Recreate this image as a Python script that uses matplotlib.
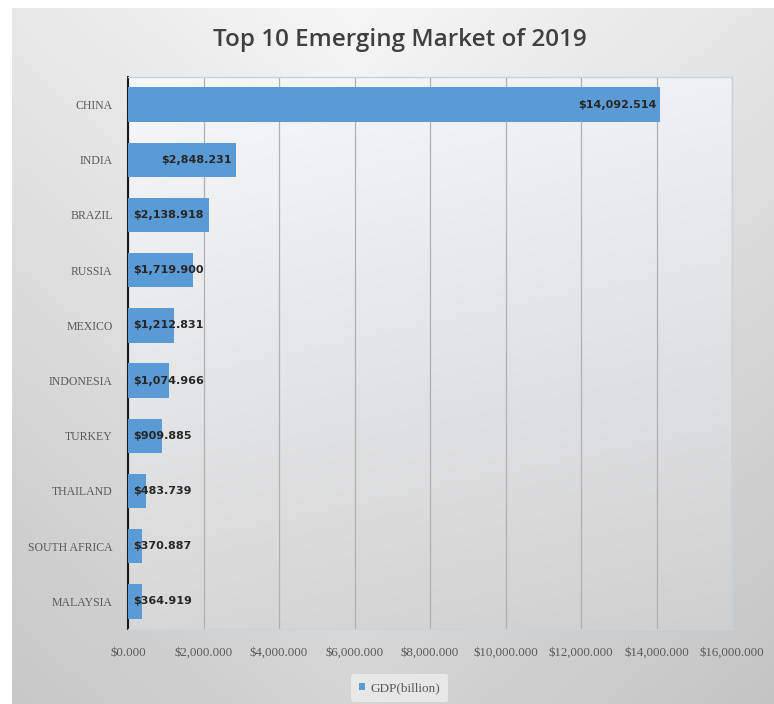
import numpy as np
import matplotlib
matplotlib.use("Agg")
import matplotlib.pyplot as plt
from matplotlib.ticker import FuncFormatter

countries = ["CHINA", "INDIA", "BRAZIL", "RUSSIA", "MEXICO", "INDONESIA",
             "TURKEY", "THAILAND", "SOUTH AFRICA", "MALAYSIA"]
gdp = [14092.514, 2848.231, 2138.918, 1719.900, 1212.831, 1074.966,
       909.885, 483.739, 370.887, 364.919]
x_ticks = [0, 2000, 4000, 6000, 8000, 10000, 12000, 14000, 16000]
title = "Top 10 Emerging Market of 2019"
series_name = "GDP(billion)"

W, H = 774, 704
fig = plt.figure(figsize=(W / 100, H / 100), dpi=100)
fig.patch.set_facecolor("white")

# chart frame with a soft grey gradient (light at the top centre)
bg = fig.add_axes([12 / W, 0, 1 - 12 / W, 1 - 8 / H], zorder=0)
yy, xx = np.mgrid[0:1:200j, 0:1:200j]
shade = 0.965 - 0.13 * yy - 0.06 * np.abs(xx - 0.45) * 2
bg.imshow(np.dstack([shade, shade, shade]), aspect="auto",
          extent=[0, 1, 0, 1], origin="upper")
bg.set_axis_off()

left, right, top, bottom = 128, 732, 77, 629
ax = fig.add_axes([left / W, 1 - bottom / H, (right - left) / W,
                   (bottom - top) / H], zorder=1)
ax.patch.set_alpha(0)
# plot-area gradient
pyy, pxx = np.mgrid[0:1:200j, 0:1:200j]
ps = 0.975 - 0.13 * pyy - 0.03 * pxx
ax.imshow(np.dstack([ps - 0.01 * (1 - pyy), ps, ps + 0.012 * (1 - pyy)]),
          aspect="auto", extent=[0, 16000, 9.5, -0.5], zorder=0)

ypos = np.arange(len(countries))
ax.barh(ypos, gdp, height=0.62, color="#5b9bd5", zorder=3)

for y, v in zip(ypos, gdp):
    label = f"${v:,.3f}"
    if v > 2500:
        ax.text(v - 100, y, label, ha="right", va="center", fontsize=8,
                fontweight="bold", color="#262626", zorder=4)
    else:
        ax.text(130, y, label, ha="left", va="center", fontsize=8,
                fontweight="bold", color="#262626", zorder=4)

ax.set_xlim(0, 16000)
ax.set_ylim(9.5, -0.5)
ax.set_xticks(x_ticks)
ax.xaxis.set_major_formatter(FuncFormatter(lambda v, p: f"${v:,.3f}"))
ax.set_yticks(ypos)
ax.set_yticklabels(countries)
ax.tick_params(axis="x", length=0, pad=13, labelsize=9.3, labelcolor="#595959")
ax.tick_params(axis="y", length=0, pad=11, labelsize=8.5, labelcolor="#595959")
for lab in ax.get_xticklabels() + ax.get_yticklabels():
    lab.set_family("Liberation Serif")
ax.grid(axis="x", color="#b0b0b0", linewidth=0.9, zorder=1)
for s in ["top", "right", "bottom"]:
    ax.spines[s].set_color("#c8d3de")
    ax.spines[s].set_linewidth(1.0)
ax.spines["left"].set_color("#1a1a1a")
ax.spines["left"].set_linewidth(1.5)
ax.set_axisbelow(True)

fig.text(400 / W, 1 - 40 / H, title, ha="center", va="center",
         fontsize=17.5, fontweight="semibold", color="#404040",
         family="Open Sans", zorder=5)

leg = ax.legend([ax.patches[0]], [series_name], loc="upper center",
                bbox_to_anchor=(0.45, -0.07), frameon=True,
                prop={"family": "Liberation Serif", "size": 9.5},
                handlelength=0.45, handleheight=0.45, handletextpad=0.4,
                borderpad=0.6, labelcolor="#595959")
leg.get_frame().set_facecolor("#ededed")
leg.get_frame().set_edgecolor("none")

fig.savefig("out.png", dpi=100)
